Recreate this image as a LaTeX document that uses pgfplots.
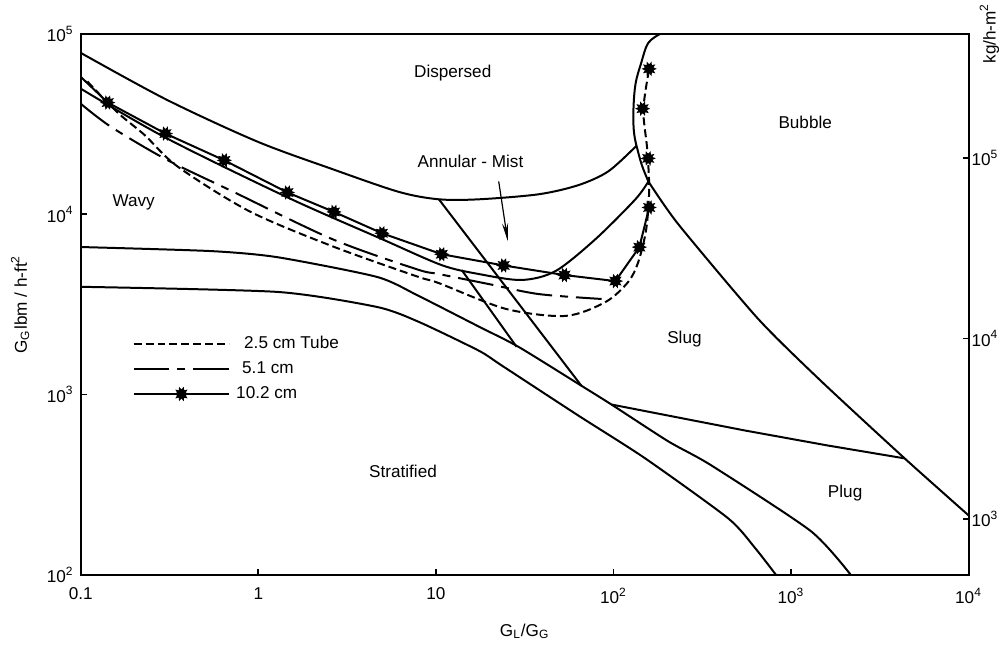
\documentclass[border=0pt]{standalone}
\usepackage{fontspec}
\setmainfont{Liberation Sans}
\usepackage{pgfplots}
\pgfplotsset{compat=1.18}
\usetikzlibrary{arrows.meta}

\newcommand{\fs}{\fontsize{8.6}{10}\selectfont}

% filled starburst mark used for the 10.2 cm tube points
\pgfdeclareplotmark{burst}{%
  \pgfpathmoveto{\pgfpointpolar{0}{\pgfplotmarksize}}%
  \pgfpathlineto{\pgfpointpolar{18}{0.6\pgfplotmarksize}}%
  \pgfpathlineto{\pgfpointpolar{36}{\pgfplotmarksize}}%
  \pgfpathlineto{\pgfpointpolar{54}{0.6\pgfplotmarksize}}%
  \pgfpathlineto{\pgfpointpolar{72}{\pgfplotmarksize}}%
  \pgfpathlineto{\pgfpointpolar{90}{0.6\pgfplotmarksize}}%
  \pgfpathlineto{\pgfpointpolar{108}{\pgfplotmarksize}}%
  \pgfpathlineto{\pgfpointpolar{126}{0.6\pgfplotmarksize}}%
  \pgfpathlineto{\pgfpointpolar{144}{\pgfplotmarksize}}%
  \pgfpathlineto{\pgfpointpolar{162}{0.6\pgfplotmarksize}}%
  \pgfpathlineto{\pgfpointpolar{180}{\pgfplotmarksize}}%
  \pgfpathlineto{\pgfpointpolar{198}{0.6\pgfplotmarksize}}%
  \pgfpathlineto{\pgfpointpolar{216}{\pgfplotmarksize}}%
  \pgfpathlineto{\pgfpointpolar{234}{0.6\pgfplotmarksize}}%
  \pgfpathlineto{\pgfpointpolar{252}{\pgfplotmarksize}}%
  \pgfpathlineto{\pgfpointpolar{270}{0.6\pgfplotmarksize}}%
  \pgfpathlineto{\pgfpointpolar{288}{\pgfplotmarksize}}%
  \pgfpathlineto{\pgfpointpolar{306}{0.6\pgfplotmarksize}}%
  \pgfpathlineto{\pgfpointpolar{324}{\pgfplotmarksize}}%
  \pgfpathlineto{\pgfpointpolar{342}{0.6\pgfplotmarksize}}%
  \pgfpathclose
  \pgfusepathqfill
}

\tikzset{
  bnd/.style={black, line width=1pt},
  d25/.style={bnd, dash pattern=on 4pt off 2pt},
  d51/.style={bnd, dash pattern=on 18pt off 4pt on 4pt off 4pt},
}

\begin{document}
\begin{tikzpicture}
\begin{axis}[name=ax,
  width=445.5pt, height=271.5pt, scale only axis,
  xmode=log, ymode=log, xmin=0.1, xmax=1e4, ymin=100, ymax=1e5,
  xminorticks=false, yminorticks=false,
  tick align=inside, major tick length=3pt,
  every tick/.style={black, line width=0.9pt},
  axis line style={line width=1pt},
  tick label style={font=\fs},
  xticklabel style={yshift=-3pt},
  every axis label/.append style={font=\fs},
  xtick={0.1,1,10,100,1000,10000},
  xticklabels={0.1,1,10,10\textsuperscript{2},10\textsuperscript{3},10\textsuperscript{4}},
  ytick={100,1000,10000,100000},
  yticklabels={10\textsuperscript{2},10\textsuperscript{3},10\textsuperscript{4},10\textsuperscript{5}},
  xtick pos=bottom, ytick pos=left,
  xlabel={G\textsubscript{L}/G\textsubscript{G}},
  ylabel={G\textsubscript{G}lbm / h-ft\textsuperscript{2}},
  xlabel shift=3pt, ylabel shift=2pt,
  legend style={draw=none, fill=none, at={(0.058,0.449)}, anchor=north west,
                font=\fs, row sep=1pt, inner sep=0pt, cells={anchor=west}},
  legend image code/.code={\draw[mark repeat=2,mark phase=2,#1]
      plot coordinates {(0pt,0pt) (24pt,0pt) (48pt,0pt)};},
]
% legend
\addlegendimage{d25}
\addlegendentry{\hspace{5pt}2.5 cm Tube}
\addlegendimage{d51}
\addlegendentry{\hspace{4pt}5.1 cm}
\addlegendimage{bnd, mark=burst, mark size=3.8pt, mark options={solid}}
\addlegendentry{\hspace{1pt}10.2 cm}

% dispersed lower boundary
\addplot[bnd, no markers, smooth, tension=0.5, forget plot] coordinates {
  (0.1,7.85e4) (0.304,4.32e4) (0.986,2.53e4) (2.61,1.78e4) (6.19,1.33e4)
  (10.4,1.21e4) (17.5,1.21e4) (37.9,1.29e4) (63.5,1.45e4) (93.7,1.73e4) (135,2.4e4)};
% bubble boundary
\addplot[bnd, no markers, smooth, tension=0.6, forget plot] coordinates {
  (183.6,1e5) (157,8.9e4) (143.5,6.92e4) (133,5.23e4) (129.5,3.66e4)
  (131,2.77e4) (138,2.2e4) (145.5,1.84e4) (157.3,1.52e4)};
\addplot[bnd, no markers, smooth, tension=0.4, forget plot] coordinates {
  (157.3,1.52e4) (232,8.8e3) (653,2.63e3) (1475,1.19e3) (4365,443) (1e4,214)};
% wavy / annular boundary
\addplot[bnd, no markers, smooth, tension=0.5, forget plot] coordinates {
  (0.1,4.97e4) (0.30,2.66e4) (1.46,1.24e4) (4.97,7.28e3) (10.8,5.22e3)
  (17.5,4.66e3) (30.4,4.32e3) (47.2,4.84e3) (79.3,7.28e3) (133,1.21e4) (157.3,1.52e4)};
% wavy / stratified upper and lower boundaries
\addplot[bnd, no markers, smooth, tension=0.4, forget plot] coordinates {
  (0.1,6.58e3) (0.537,6.25e3) (1.28,5.78e3) (4.67,4.49e3) (8.02,3.52e3)
  (17.5,2.38e3) (29.2,1.84e3) (66,1.12e3) (97.5,881) (204,550) (356,405)
  (1294,175) (2173,100)};
\addplot[bnd, no markers, smooth, tension=0.4, forget plot] coordinates {
  (0.1,3.96e3) (1.28,3.71e3) (4.67,3.06e3) (8.02,2.53e3) (17.5,1.75e3)
  (23.5,1.45e3) (63.5,765) (151,443) (443,206) (628,141) (824,100)};
% annular / slug straight boundaries
\addplot[bnd, no markers, forget plot] coordinates {(10.4,1.21e4) (66,1.12e3)};
\addplot[bnd, no markers, forget plot] coordinates {(14,4.9e3) (28.5,1.84e3)};
% slug / plug
\addplot[bnd, no markers, forget plot] coordinates {(97.5,881) (552,632) (1614,522) (4365,443)};

% 2.5 cm tube
\addplot[d25, no markers, smooth, tension=0.5, forget plot] coordinates {
  (0.109,5.45e4) (0.1615,3.66e4) (0.229,2.75e4) (0.351,1.84e4) (0.889,1.04e4)
  (2.61,6.65e3) (7.73,4.54e3) (10.4,4.15e3) (24.7,2.99e3) (53.7,2.73e3)
  (90.2,3.26e3) (121,4.21e3) (138,5.43e3) (153,8.26e3) (159,1.37e4)
  (155,2.29e4) (147.5,3.8e4) (159,6.4e4)};
% 5.1 cm
\addplot[d51, no markers, smooth, tension=0.5, forget plot] coordinates {
  (0.1,4.1e4) (0.1475,3.06e4) (0.304,2.01e4) (0.714,1.34e4) (2.61,7.28e3)
  (7.73,4.97e3) (10.4,4.66e3) (19.9,4.1e3) (37.9,3.61e3) (85.8,3.39e3)};
% 10.2 cm
\addplot[bnd, no markers, forget plot] coordinates {
  (0.1,5.78e4) (0.142,4.16e4) (0.30,2.8e4) (0.644,1.99e4) (1.46,1.32e4)
  (2.67,1.03e4) (4.97,7.85e3) (10.8,6.0e3) (24.1,5.2e3) (53,4.6e3)
  (102.6,4.26e3) (140,6.57e3) (159,1.09e4)};
\addplot[only marks, mark=burst, mark size=3.8pt, black, forget plot] coordinates {
  (0.142,4.16e4) (0.30,2.8e4) (0.644,1.99e4) (1.46,1.32e4) (2.67,1.03e4)
  (4.97,7.85e3) (10.8,6.0e3) (24.1,5.2e3) (53,4.6e3) (102.6,4.26e3)
  (140,6.57e3) (159,1.09e4) (157,2.04e4) (146,3.85e4) (159,6.4e4)};

% region names
\node[font=\fs] at (rel axis cs:0.419,0.928) {Dispersed};
\node[font=\fs] at (rel axis cs:0.439,0.764) {Annular - Mist};
\node[font=\fs] at (rel axis cs:0.816,0.836) {Bubble};
\node[font=\fs] at (rel axis cs:0.0596,0.689) {Wavy};
\node[font=\fs] at (rel axis cs:0.680,0.436) {Slug};
\node[font=\fs] at (rel axis cs:0.363,0.192) {Stratified};
\node[font=\fs] at (rel axis cs:0.861,0.151) {Plug};
\draw[line width=0.6pt, -{Stealth[length=9pt,width=3pt]}] (axis cs:22.6,1.52e4) -- (axis cs:25.4,7.1e3);
\end{axis}

% SI axis on the right
\begin{axis}[
  width=445.5pt, height=271.5pt, scale only axis,
  xmode=log, ymode=log, xmin=0.1, xmax=1e4, ymin=488.2, ymax=4.882e5,
  yminorticks=false,
  tick align=inside, major tick length=3pt,
  every tick/.style={black, line width=0.9pt},
  axis line style={line width=1pt},
  tick label style={font=\fs},
  hide x axis, axis y line*=right,
  ytick={1000,10000,100000},
  yticklabels={10\textsuperscript{3},10\textsuperscript{4},10\textsuperscript{5}},
  yticklabel style={xshift=-2pt},
]
\addplot[draw=none, forget plot] coordinates {(1,1000)};
\end{axis}

\node[rotate=90, anchor=east, inner sep=0pt, font=\fs] at ([xshift=10.5pt,yshift=15.5pt]ax.north east) {kg/h-m\textsuperscript{2}};
\path ([xshift=-40.5pt,yshift=-32.5pt]ax.south west) rectangle ([xshift=17pt,yshift=17pt]ax.north east);
\end{tikzpicture}
\end{document}
